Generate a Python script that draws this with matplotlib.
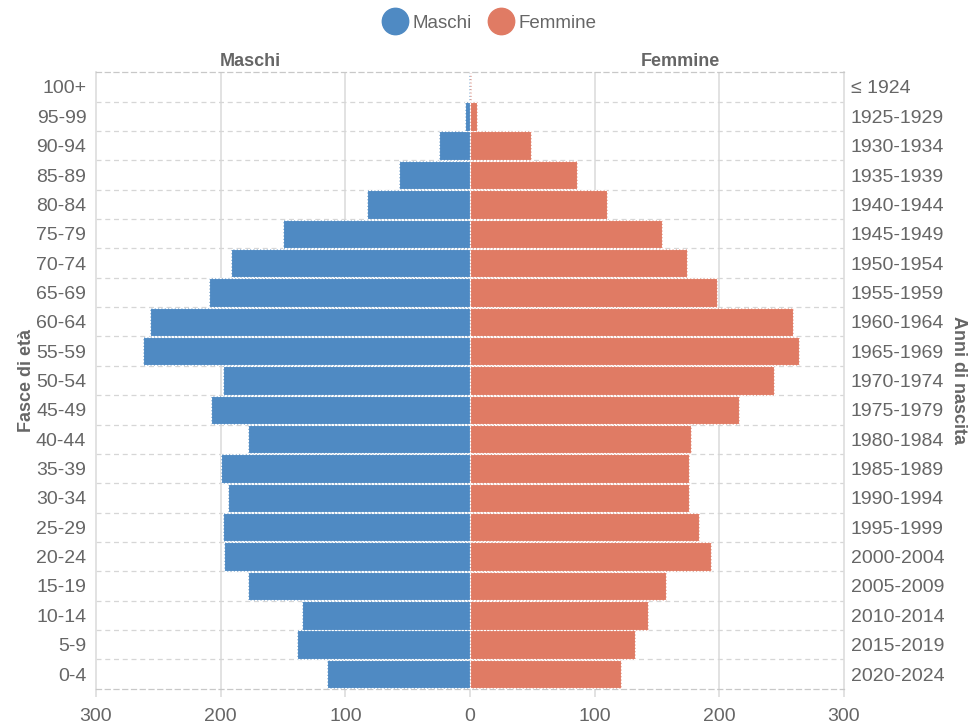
import matplotlib
matplotlib.use("Agg")
import matplotlib.pyplot as plt
from matplotlib.lines import Line2D
import numpy as np

plt.rcParams['font.family'] = ['Liberation Sans', 'DejaVu Sans']

age_groups = ["0-4", "5-9", "10-14", "15-19", "20-24", "25-29", "30-34", "35-39",
              "40-44", "45-49", "50-54", "55-59", "60-64", "65-69", "70-74",
              "75-79", "80-84", "85-89", "90-94", "95-99", "100+"]
birth_years = ["2020-2024", "2015-2019", "2010-2014", "2005-2009", "2000-2004",
               "1995-1999", "1990-1994", "1985-1989", "1980-1984", "1975-1979",
               "1970-1974", "1965-1969", "1960-1964", "1955-1959", "1950-1954",
               "1945-1949", "1940-1944", "1935-1939", "1930-1934", "1925-1929",
               "≤ 1924"]
males = [115, 139, 135, 178, 197, 198, 194, 200, 178, 208, 198, 262, 257, 209,
         192, 150, 83, 57, 25, 4, 1]
females = [121, 132, 143, 157, 193, 184, 176, 176, 177, 216, 244, 264, 259, 198,
           174, 154, 110, 86, 49, 6, 1]
x_ticks = [-300, -200, -100, 0, 100, 200, 300]
x_ticklabels = ["300", "200", "100", "0", "100", "200", "300"]

BLUE = "#4f8ac3"
RED = "#e07b64"
TXT = "#666666"
GRID = "#dddddd"

W, H = 972, 728
fig = plt.figure(figsize=(W / 100, H / 100), dpi=100)
ax = fig.add_axes([96 / W, 1 - 688.7 / H, (844 - 96) / W, (688.7 - 72.3) / H])

y = np.arange(len(age_groups))
ax.barh(y, -np.array(males), height=0.97, color=BLUE, edgecolor="white",
        linestyle=(0, (2, 1)), linewidth=0.8, zorder=3)
ax.barh(y, females, height=0.97, color=RED, edgecolor="white",
        linestyle=(0, (2, 1)), linewidth=0.8, zorder=3)

ax.set_xlim(-300, 300)
ax.set_ylim(-0.5, len(age_groups) - 0.5)

# grid
for v in [-200, -100, 100, 200]:
    ax.axvline(v, color=GRID, lw=1.2, zorder=1)
for b in np.arange(0.5, len(age_groups) - 1, 1):
    ax.axhline(b, color="#d6d6d6", lw=0.9, ls=(0, (4, 3)), zorder=1)

for side in ["left", "right"]:
    ax.spines[side].set_color(GRID)
    ax.spines[side].set_linewidth(1.2)
for side in ["top", "bottom"]:
    ax.spines[side].set_color("#c8c8c8")
    ax.spines[side].set_linewidth(0.9)
    ax.spines[side].set_linestyle((0, (4, 3)))

ax.set_xticks(x_ticks)
ax.set_xticklabels(x_ticklabels)
ax.tick_params(axis="x", length=6, color=GRID, width=1.2, labelsize=14,
               labelcolor=TXT, pad=8)
ax.set_yticks(y)
ax.set_yticklabels(age_groups)
ax.tick_params(axis="y", length=0, labelsize=14, labelcolor=TXT, pad=7)

ax2 = ax.twinx()
ax2.set_ylim(ax.get_ylim())
ax2.set_yticks(y)
ax2.set_yticklabels(birth_years)
ax2.tick_params(axis="y", length=0, labelsize=14, labelcolor=TXT, pad=5)
for s in ax2.spines.values():
    s.set_visible(False)

ax.set_ylabel("Fasce di età", fontsize=13, fontweight="bold", color=TXT, labelpad=1)
ax2.set_ylabel("Anni di nascita", fontsize=13, fontweight="bold", color=TXT,
               rotation=270, labelpad=16)

fig.text(250 / W, 1 - 61 / H, "Maschi", ha="center", va="center", fontsize=13,
         fontweight="bold", color=TXT)
fig.text(680 / W, 1 - 61 / H, "Femmine", ha="center", va="center", fontsize=13,
         fontweight="bold", color=TXT)

handles = [Line2D([], [], marker="o", ls="", markersize=19, color=BLUE),
           Line2D([], [], marker="o", ls="", markersize=19, color=RED)]
fig.legend(handles, ["Maschi", "Femmine"], loc="center", ncol=2,
           bbox_to_anchor=(490 / W, 1 - 23 / H), frameon=False, fontsize=13.5,
           labelcolor=TXT, handletextpad=0.35, columnspacing=0.95, handlelength=1.2)

fig.savefig("out.png", dpi=100)
